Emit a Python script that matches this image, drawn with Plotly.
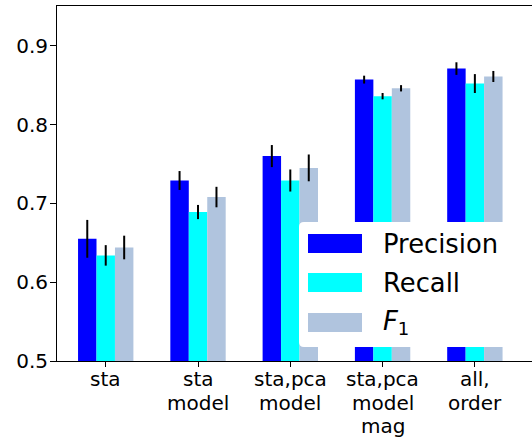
import plotly.graph_objects as go

categories = ["sta", "sta<br>model", "sta,pca<br>model", "sta,pca<br>model<br>mag", "all,<br>order"]
series_names = ["Precision", "Recall", "<i>F</i><sub>1</sub>"]
colors = ["#0000FF", "#00FFFF", "#B0C4DE"]
precision = [0.655, 0.729, 0.760, 0.857, 0.871]
precision_err = [0.024, 0.012, 0.014, 0.005, 0.008]
recall = [0.634, 0.689, 0.729, 0.836, 0.852]
recall_err = [0.013, 0.009, 0.014, 0.004, 0.012]
f1 = [0.644, 0.708, 0.745, 0.846, 0.861]
f1_err = [0.015, 0.013, 0.017, 0.004, 0.007]
y_ticks = [0.5, 0.6, 0.7, 0.8, 0.9]

W, H = 532, 441
ML, MR, MT, MB = 57, 0, 6, 80
FONT = "DejaVu Sans"

x_idx = list(range(len(categories)))
fig = go.Figure()
for name, vals, errs, col in zip(series_names, [precision, recall, f1],
                                 [precision_err, recall_err, f1_err], colors):
    fig.add_trace(go.Bar(
        x=x_idx, y=vals, name=name, marker=dict(color=col, line=dict(width=0)),
        error_y=dict(type="data", array=errs, color="black", thickness=2, width=0),
        showlegend=False))

def px_x(p):
    return (p - ML) / (W - ML - MR)

def px_y(p):
    return (H - MB - p) / (H - MT - MB)

# legend (drawn manually to match patch sizes)
lx0, lx1, ly0, ly1, r = 299, 545, 222, 347, 5
path = (f"M {px_x(lx0+r)},{px_y(ly0)} L {px_x(lx1)},{px_y(ly0)} L {px_x(lx1)},{px_y(ly1)} "
        f"L {px_x(lx0+r)},{px_y(ly1)} Q {px_x(lx0)},{px_y(ly1)} {px_x(lx0)},{px_y(ly1-r)} "
        f"L {px_x(lx0)},{px_y(ly0+r)} Q {px_x(lx0)},{px_y(ly0)} {px_x(lx0+r)},{px_y(ly0)} Z")
shapes = [dict(type="path", path=path, xref="paper", yref="paper",
               fillcolor="white", line=dict(width=0), layer="above")]
annotations = []
centers = [243.5, 282.5, 322.5]
for name, col, cy in zip(series_names, colors, centers):
    shapes.append(dict(type="rect", xref="paper", yref="paper",
                       x0=px_x(308), x1=px_x(362), y0=px_y(cy - 9.5), y1=px_y(cy + 9.5),
                       fillcolor=col, line=dict(width=0), layer="above"))
    annotations.append(dict(text=name, xref="paper", yref="paper", x=px_x(381), y=px_y(cy),
                            xanchor="left", yanchor="middle", showarrow=False,
                            font=dict(family=FONT, size=25.8, color="black")))

# x tick labels, one annotation per line for matplotlib-like line spacing
line_centers = [379, 402.5, 426]
for xi, cat in zip(x_idx, categories):
    for k, line in enumerate(cat.split("<br>")):
        annotations.append(dict(text=line, xref="x", yref="paper", x=xi, y=px_y(line_centers[k]),
                                xanchor="center", yanchor="middle", showarrow=False,
                                font=dict(family=FONT, size=20, color="black")))

fig.update_layout(
    width=W, height=H, margin=dict(l=ML, r=MR, t=MT, b=MB, pad=0, autoexpand=False),
    paper_bgcolor="white", plot_bgcolor="white",
    barmode="group", bargap=0.4, bargroupgap=0,
    font=dict(family=FONT, size=20, color="black"),
    xaxis=dict(range=[-0.528, 4.619], tickmode="array", tickvals=x_idx,
               showticklabels=False,
               showgrid=False, zeroline=False, showline=True, linecolor="black", linewidth=1,
               ticks="outside", ticklen=5, tickcolor="black", mirror=True, automargin=False),
    yaxis=dict(range=[0.5, 0.9504], tickmode="array", tickvals=y_ticks,
               ticktext=[f"{v:.1f}" for v in y_ticks],
               showgrid=False, zeroline=False, showline=True, linecolor="black", linewidth=1,
               ticks="outside", ticklen=6, tickcolor="black", mirror=False, automargin=False,
               ticklabelstandoff=-2,
               tickfont=dict(family=FONT, size=20, color="black")),
    shapes=shapes, annotations=annotations,
)
fig.write_html("out.html")
